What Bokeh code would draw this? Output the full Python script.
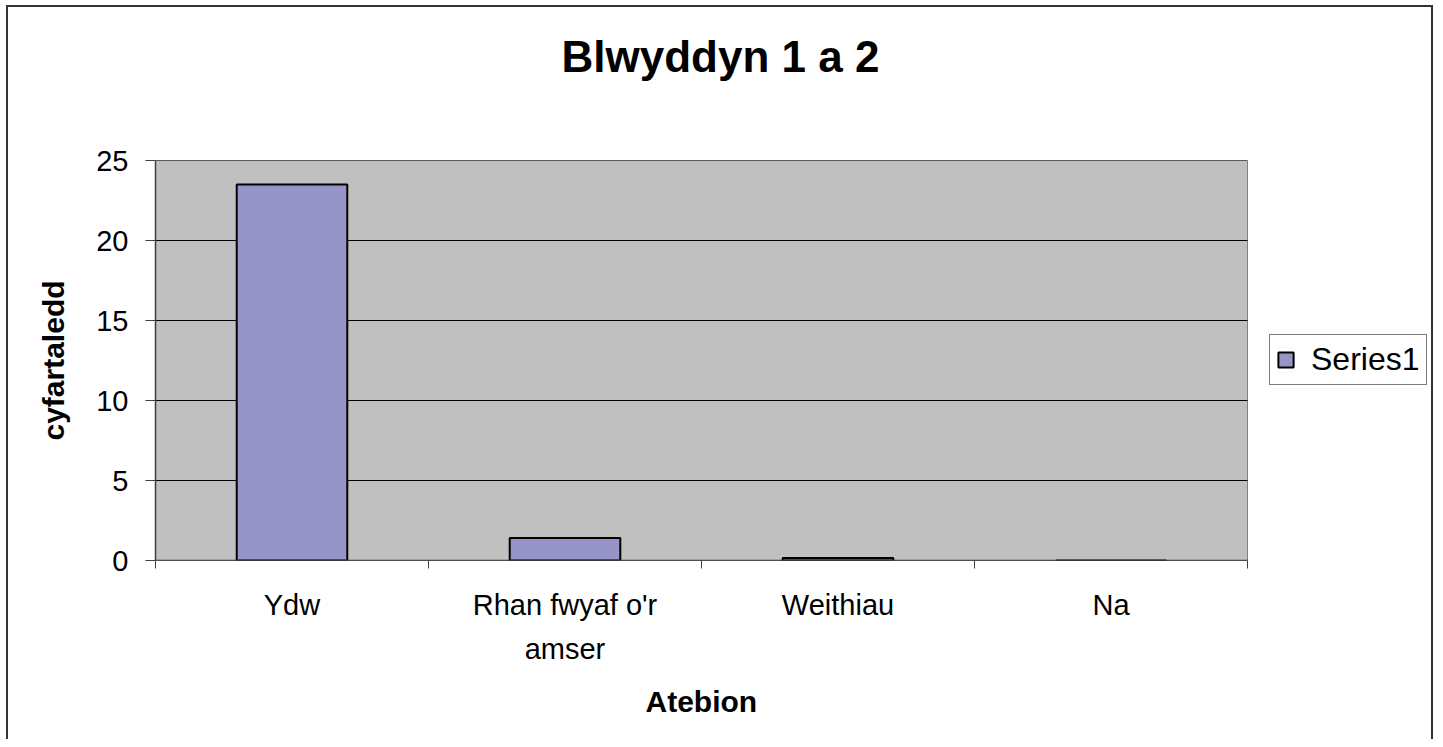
from bokeh.plotting import figure
from bokeh.models import Range1d, FixedTicker, Legend, LegendItem, ColumnDataSource, Title
from bokeh.embed import file_html
from bokeh.resources import INLINE

# ---- data ----
categories = ["Ydw", "Rhan fwyaf o'r amser", "Weithiau", "Na"]
values = [23.5, 1.4, 0.15, 0.0]
y_ticks = [0, 5, 10, 15, 20, 25]
title_text = "Blwyddyn 1 a 2"
x_title = "Atebion"
y_title = "cyfartaledd"
series_name = "Series1"

FONT = "Liberation Sans"

n = len(categories)
y_max = y_ticks[-1]
x_pos = [i + 0.5 for i in range(n)]
src = ColumnDataSource(dict(x=x_pos, top=values, cat=categories))

# plot area of the bars spans 1092 px; the drawing frame is extended to the right
# so that the legend (which sits right of the plot area) is not clipped
AREA_PX = 1092
FRAME_PX = 1276
x_end = n * FRAME_PX / AREA_PX

p = figure(width=1435, height=739, output_backend="svg", toolbar_location=None,
           x_range=Range1d(0, x_end), y_range=Range1d(0, y_max),
           min_border_left=155, min_border_right=4, min_border_top=160, min_border_bottom=179,
           title=None)

p.border_fill_alpha = 0
p.background_fill_alpha = 0
p.outline_line_color = None
p.styles = {
    "background-color": "white",
    "background-image": "linear-gradient(#333,#333), linear-gradient(#333,#333), linear-gradient(#333,#333)",
    "background-size": "2px 100%, 1427px 2px, 2px 100%",
    "background-position": "6px 5px, 6px 5px, 1431px 5px",
    "background-repeat": "no-repeat",
}

# spacer between title and plot area, then the title itself
spacer = Title(text=" ", text_font_size="10px", standoff=62)
p.add_layout(spacer, "above")
main_title = Title(text=title_text, text_font=FONT, text_font_size="44px",
                   text_font_style="bold", text_color="black",
                   align="left", offset=406, standoff=10)
p.add_layout(main_title, "above")

# grey plot area
p.quad(left=[0], right=[n], bottom=[0], top=[y_max], fill_color="#C0C0C0",
       line_color="#808080", line_width=1)
# horizontal gridlines
p.segment(x0=[0] * len(y_ticks), x1=[n] * len(y_ticks), y0=y_ticks, y1=y_ticks,
          line_color="black", line_width=1)

r = p.vbar(x="x", top="top", width=0.405, source=src, fill_color="#9794C8",
           line_color="black", line_width=2)

# category axis line
p.segment(x0=[0], x1=[n], y0=[0], y1=[0], line_color="#404040", line_width=1.5)

# x axis
xa = p.xaxis[0]
xa.ticker = FixedTicker(ticks=x_pos, minor_ticks=[float(i) for i in range(n + 1)])
xa.major_label_overrides = {x: (c if c != "Rhan fwyaf o'r amser" else "Rhan fwyaf o'r\namser")
                            for x, c in zip(x_pos, categories)}
xa.major_tick_out = 0
xa.major_tick_in = 0
xa.minor_tick_out = 8
xa.minor_tick_in = 0
xa.minor_tick_line_color = "#404040"
xa.axis_line_color = None
xa.major_label_text_font = FONT
xa.major_label_text_font_size = "29px"
xa.major_label_text_color = "black"
xa.major_label_text_line_height = 1.38
xa.major_label_standoff = 20

# x axis title, placed under the centre of the plot area
x_axis_title = Title(text=x_title, text_font=FONT, text_font_size="30px",
                     text_font_style="bold", text_color="black",
                     align="left", offset=490, standoff=30)
p.add_layout(x_axis_title, "below")

# y axis
ya = p.yaxis[0]
ya.ticker = FixedTicker(ticks=y_ticks, minor_ticks=[])
ya.major_tick_out = 10
ya.major_tick_in = 0
ya.major_tick_line_color = "#404040"
ya.axis_line_color = "#404040"
ya.axis_line_width = 1.5
ya.major_label_text_font = FONT
ya.major_label_text_font_size = "29px"
ya.major_label_text_color = "black"
ya.major_label_standoff = 17
ya.axis_label = y_title
ya.axis_label_text_font = FONT
ya.axis_label_text_font_size = "30px"
ya.axis_label_text_font_style = "bold"
ya.axis_label_text_color = "black"
ya.axis_label_standoff = 23

p.xgrid.grid_line_color = None
p.ygrid.grid_line_color = None

legend = Legend(items=[LegendItem(label=series_name, renderers=[r])],
                location=(1114, 175))
legend.border_line_color = "black"
legend.border_line_width = 1
legend.background_fill_color = "white"
legend.background_fill_alpha = 1
legend.label_text_font = FONT
legend.label_text_font_size = "32px"
legend.label_text_color = "black"
legend.padding = 6
legend.margin = 0
legend.spacing = 0
legend.glyph_width = 19
legend.glyph_height = 19
legend.label_standoff = 16
p.add_layout(legend, "center")

open("out.html", "w").write(file_html(p, INLINE))
